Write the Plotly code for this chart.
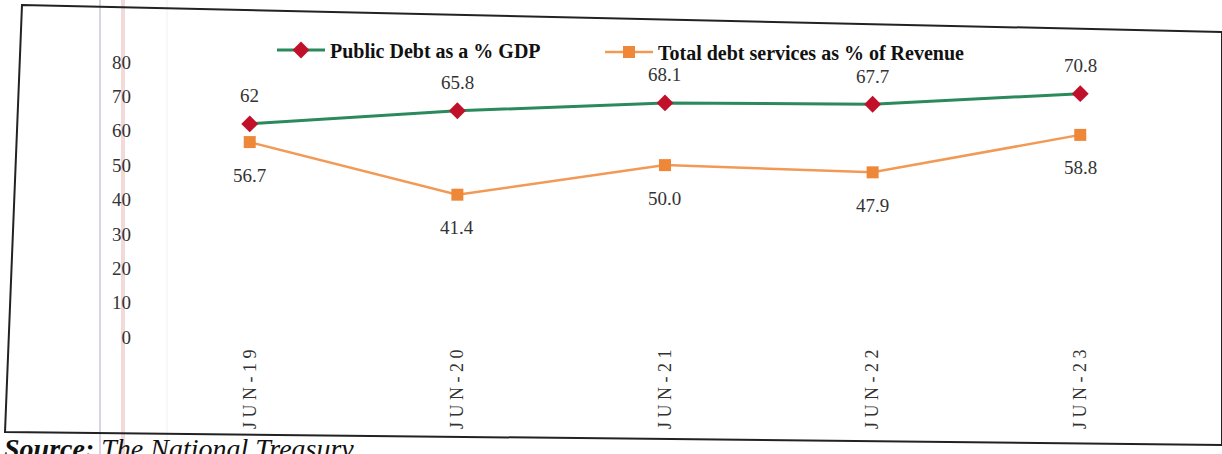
import plotly.graph_objects as go

categories = ["JUN-19", "JUN-20", "JUN-21", "JUN-22", "JUN-23"]
public_debt = [62, 65.8, 68.1, 67.7, 70.8]
debt_service = [56.7, 41.4, 50.0, 47.9, 58.8]
public_debt_labels = ["62", "65.8", "68.1", "67.7", "70.8"]
debt_service_labels = ["56.7", "41.4", "50.0", "47.9", "58.8"]
y_ticks = [0, 10, 20, 30, 40, 50, 60, 70, 80]

W, H = 1222, 454
ML, MR, MT, MB = 132, 40, 20, 109
PW, PH = W - ML - MR, H - MT - MB

def px(x):
    return (x - ML) / PW

def py(y):
    return (H - MB - y) / PH

SERIF = "Liberation Serif, Times New Roman, serif"
tick_text = [" ".join(list(c)) for c in categories]

fig = go.Figure()
fig.add_trace(go.Scatter(
    x=categories, y=public_debt, mode="lines+markers",
    name="Public Debt as a % GDP", legend="legend",
    line=dict(color="#2a8a5c", width=3),
    marker=dict(symbol="diamond", size=13, color="#c0102a"),
))
fig.add_trace(go.Scatter(
    x=categories, y=debt_service, mode="lines+markers",
    name="Total debt services as % of Revenue", legend="legend2",
    line=dict(color="#f29a55", width=2.5),
    marker=dict(symbol="square", size=12, color="#ee8838"),
))

annotations = []
for c, v, t in zip(categories, public_debt, public_debt_labels):
    annotations.append(dict(x=c, y=v, text=t, showarrow=False, yshift=28,
                            font=dict(family=SERIF, size=19, color="#333")))
for c, v, t in zip(categories, debt_service, debt_service_labels):
    annotations.append(dict(x=c, y=v, text=t, showarrow=False, yshift=-33,
                            font=dict(family=SERIF, size=19, color="#333")))
annotations.append(dict(
    xref="paper", yref="paper", x=px(2), y=py(431), xanchor="left", yanchor="top",
    text="<b><i>Source:</i></b> <i>The National Treasury</i>", showarrow=False,
    font=dict(family=SERIF, size=28, color="#111"),
))

# skewed outer frame of the scanned figure
frame = "M {} {} L {} {} L {} {} L {} {} Z".format(
    px(22), py(5), px(1222), py(32), px(1222), py(445), px(5), py(432))
shapes = [dict(type="path", xref="paper", yref="paper", path=frame,
               line=dict(color="#222", width=2))]
for xx, col, w in [(100, "rgba(150,130,180,0.35)", 2), (123, "rgba(220,150,150,0.35)", 4),
                   (167, "rgba(200,190,210,0.25)", 1)]:
    shapes.append(dict(type="line", xref="paper", yref="paper", x0=px(xx), x1=px(xx),
                       y0=py(0), y1=py(454), line=dict(color=col, width=w), layer="below"))

legend_font = dict(family=SERIF, size=20, color="#111", weight="bold")
fig.update_layout(
    width=W, height=H,
    margin=dict(l=ML, r=MR, t=MT, b=MB),
    paper_bgcolor="white", plot_bgcolor="white",
    showlegend=True,
    legend=dict(orientation="h", x=px(272), y=py(50), xanchor="left", yanchor="middle",
                font=legend_font, itemwidth=48, bgcolor="rgba(0,0,0,0)"),
    legend2=dict(orientation="h", x=px(600), y=py(52), xanchor="left", yanchor="middle",
                 font=legend_font, itemwidth=48, bgcolor="rgba(0,0,0,0)"),
    xaxis=dict(type="category", range=[-0.567, 4.49], showgrid=False, zeroline=False,
               showline=False, ticks="", tickvals=categories, ticktext=tick_text,
               tickangle=-90, tickfont=dict(family=SERIF, size=18, color="#333"),
               ticklabelstandoff=0),
    yaxis=dict(range=[-2.33, 92.22], tickvals=y_ticks, showgrid=False, zeroline=False,
               showline=False, ticks="", tickfont=dict(family=SERIF, size=19, color="#333")),
    annotations=annotations,
    shapes=shapes,
)

fig.write_html("out.html", config={"displayModeBar": False},
               post_script="document.body.style.margin='0';document.body.style.overflow='hidden';")
